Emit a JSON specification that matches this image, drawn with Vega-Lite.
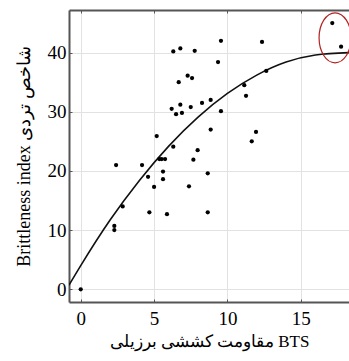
{
  "$schema": "https://vega.github.io/schema/vega-lite/v6.json",
  "width": 280,
  "height": 292,
  "autosize": {"type": "none"},
  "padding": {"left": 69, "top": 10, "right": 0, "bottom": 59},
  "background": "white",
  "config": {
    "view": {"stroke": null},
    "font": "Liberation Serif"
  },
  "datasets": {
    "pts": [
      {"bts": 0, "bi": 0},
      {"bts": 2.29, "bi": 10.0},
      {"bts": 2.29, "bi": 10.7},
      {"bts": 2.41, "bi": 21.0},
      {"bts": 2.86, "bi": 14.0},
      {"bts": 4.18, "bi": 21.0},
      {"bts": 4.59, "bi": 19.0},
      {"bts": 4.68, "bi": 13.0},
      {"bts": 5.0, "bi": 17.3},
      {"bts": 5.18, "bi": 25.9},
      {"bts": 5.36, "bi": 22.0},
      {"bts": 5.52, "bi": 22.0},
      {"bts": 5.75, "bi": 22.0},
      {"bts": 5.61, "bi": 19.9},
      {"bts": 5.61, "bi": 18.6},
      {"bts": 5.88, "bi": 12.7},
      {"bts": 6.2, "bi": 30.5},
      {"bts": 6.31, "bi": 24.1},
      {"bts": 6.31, "bi": 40.2},
      {"bts": 6.5, "bi": 29.6},
      {"bts": 6.68, "bi": 35.0},
      {"bts": 6.79, "bi": 31.2},
      {"bts": 6.79, "bi": 40.7},
      {"bts": 6.9, "bi": 29.8},
      {"bts": 7.29, "bi": 36.1},
      {"bts": 7.38, "bi": 17.4},
      {"bts": 7.5, "bi": 30.8},
      {"bts": 7.59, "bi": 35.7},
      {"bts": 7.68, "bi": 21.9},
      {"bts": 7.77, "bi": 40.3},
      {"bts": 7.97, "bi": 23.5},
      {"bts": 8.27, "bi": 31.5},
      {"bts": 8.66, "bi": 19.6},
      {"bts": 8.66, "bi": 13.0},
      {"bts": 8.86, "bi": 32.0},
      {"bts": 8.86, "bi": 27.0},
      {"bts": 9.36, "bi": 38.4},
      {"bts": 9.56, "bi": 42.0},
      {"bts": 9.56, "bi": 30.1},
      {"bts": 11.15, "bi": 34.5},
      {"bts": 11.27, "bi": 32.7},
      {"bts": 11.66, "bi": 25.0},
      {"bts": 11.95, "bi": 26.6},
      {"bts": 12.36, "bi": 41.8},
      {"bts": 12.65, "bi": 36.9},
      {"bts": 17.15, "bi": 45.0},
      {"bts": 17.75, "bi": 41.0}
    ],
    "fit": [
      {"bts": -0.8, "bi": 0.7},
      {"bts": 0, "bi": 4.0},
      {"bts": 2, "bi": 11.7},
      {"bts": 4, "bi": 18.4},
      {"bts": 6, "bi": 24.2},
      {"bts": 8, "bi": 29.1},
      {"bts": 10, "bi": 33.1},
      {"bts": 12, "bi": 36.2},
      {"bts": 14, "bi": 38.4},
      {"bts": 16, "bi": 39.6},
      {"bts": 18.3, "bi": 40.0}
    ],
    "mark": [
      {"bts": 17.34, "bi": 42.5}
    ]
  },
  "resolve": {"axis": {"x": "independent"}},
  "layer": [
    {
      "data": {"name": "fit"},
      "mark": {"type": "line", "interpolate": "monotone", "color": "#111111", "strokeWidth": 1.6, "clip": true},
      "encoding": {
        "x": {
          "field": "bts",
          "type": "quantitative",
          "scale": {"domain": [-0.8, 18.29], "nice": false, "zero": false},
          "axis": {
            "orient": "bottom",
            "values": [0, 5, 10, 15],
            "title": "‎مقاومت کششی برزیلی BTS",
            "titleFont": "Liberation Serif",
            "titleFontSize": 17,
            "titleFontWeight": "normal",
            "titleColor": "black",
            "titlePadding": 5,
            "labelFont": "Liberation Serif",
            "labelFontSize": 19,
            "labelColor": "black",
            "labelPadding": 10,
            "grid": true,
            "gridColor": "#e2e2e2",
            "gridWidth": 1,
            "domainColor": "#555555",
            "domainWidth": 2,
            "tickColor": "#555555",
            "tickSize": -3,
            "tickWidth": 1
          }
        },
        "y": {
          "field": "bi",
          "type": "quantitative",
          "scale": {"domain": [-2.15, 47.2], "nice": false, "zero": false},
          "axis": {
            "values": [0, 10, 20, 30, 40],
            "title": "Brittleness index شاخص تردی",
            "titleFont": "Liberation Serif",
            "titleFontSize": 18,
            "titleFontWeight": "normal",
            "titleColor": "black",
            "titlePadding": 14,
            "labelFont": "Liberation Serif",
            "labelFontSize": 19,
            "labelColor": "black",
            "labelPadding": 6,
            "grid": true,
            "gridColor": "#e2e2e2",
            "gridWidth": 1,
            "domainColor": "#555555",
            "domainWidth": 2,
            "tickColor": "#555555",
            "tickSize": -3,
            "tickWidth": 1
          }
        }
      }
    },
    {
      "data": {"name": "pts"},
      "mark": {"type": "circle", "color": "black", "size": 18, "opacity": 1},
      "encoding": {
        "x": {
          "field": "bts",
          "type": "quantitative",
          "axis": {
            "orient": "top",
            "values": [0, 5, 10, 15],
            "title": null,
            "labels": false,
            "grid": false,
            "domainColor": "#555555",
            "domainWidth": 2,
            "tickColor": "#555555",
            "tickSize": -3,
            "tickWidth": 1
          }
        },
        "y": {"field": "bi", "type": "quantitative"}
      }
    },
    {
      "data": {"name": "mark"},
      "mark": {
        "type": "point",
        "shape": "M -0.64 0 A 0.64 1 0 1 0 0.64 0 A 0.64 1 0 1 0 -0.64 0 Z",
        "size": 2500,
        "filled": false,
        "stroke": "#b22222",
        "strokeWidth": 1.2,
        "opacity": 1
      },
      "encoding": {
        "x": {"field": "bts", "type": "quantitative", "axis": null},
        "y": {"field": "bi", "type": "quantitative"}
      }
    }
  ]
}
